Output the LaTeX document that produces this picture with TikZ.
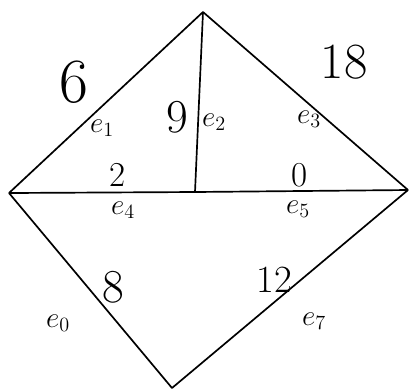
\documentclass[tikz,border=0pt]{standalone}
\usepackage{amsmath,amssymb}
\usetikzlibrary{positioning}

\begin{document}
\begin{tikzpicture}[
  x=0.025cm,y=-0.025cm,
  edge/.style={draw,line width=1.2pt,line join=round},
  weight/.style={font=\Huge,inner sep=0pt},
  elabel/.style={font=\huge,inner sep=0pt}
]
\useasboundingbox (0,0) rectangle (412,391);
% Vertices
\coordinate (top) at (203,12);
\coordinate (lft) at (9,193);
\coordinate (mid) at (195,192);
\coordinate (rgt) at (408,190);
\coordinate (bot) at (172,388);

% Edges
\draw[edge] (lft) -- (top) -- (rgt);
\draw[edge] (top) -- (mid);
\draw[edge] (lft) -- (mid) -- (rgt);
\draw[edge] (lft) -- (bot) -- (rgt);

% Weights
\node[weight,scale=1.8] (w6) at (74,82) {6};
\node[weight,scale=1.35] (w9) at (177,117) {9};
\node[weight,scale=1.45] (w18) at (344,62) {18};
\node[weight] (w2) at (118,175) {2};
\node[weight] (w0) at (300,175) {0};
\node[weight,scale=1.35] (w8) at (113,287) {8};
\node[weight,scale=1.1] (w12) at (274,280) {12};

% Edge names
\node[elabel] (e1) at (102,128) {$e_1$};
\node[elabel] (e2) at (214,122) {$e_2$};
\node[elabel] (e3) at (309,119) {$e_3$};
\node[elabel] (e4) at (123,210) {$e_4$};
\node[elabel] (e5) at (298,209) {$e_5$};
\node[elabel] (e0) at (58,323) {$e_0$};
\node[elabel] (e7) at (314,321) {$e_7$};
\end{tikzpicture}
\end{document}
